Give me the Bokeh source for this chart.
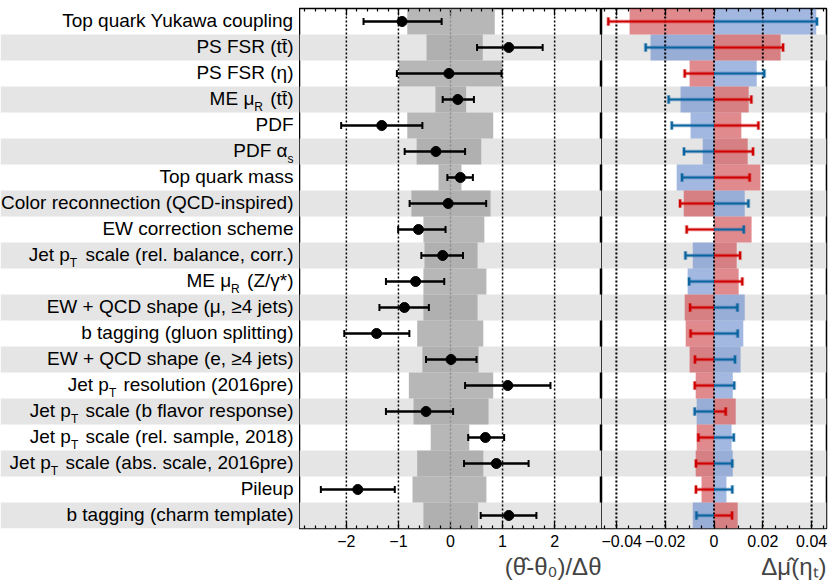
import re
import numpy as np
from bokeh.plotting import figure
from bokeh.layouts import row
from bokeh.models import (ColumnDataSource, Range1d, LinearAxis, FixedTicker,
                          Span, Title, Whisker, TeeHead)
from bokeh.embed import file_html
from bokeh.resources import INLINE
from bokeh.core.properties import value

# ---------------- data ----------------
LABELS = [
    "Top quark Yukawa coupling",
    "PS FSR (tt\u0304)",
    "PS FSR (η)",
    "ME μ_{R} (tt\u0304)",
    "PDF",
    "PDF α_{s}",
    "Top quark mass",
    "Color reconnection (QCD-inspired)",
    "EW correction scheme",
    "Jet p_{T} scale (rel. balance, corr.)",
    "ME μ_{R} (Z/γ*)",
    "EW + QCD shape (μ, ≥4 jets)",
    "b tagging (gluon splitting)",
    "EW + QCD shape (e, ≥4 jets)",
    "Jet p_{T} resolution (2016pre)",
    "Jet p_{T} scale (b flavor response)",
    "Jet p_{T} scale (rel. sample, 2018)",
    "Jet p_{T} scale (abs. scale, 2016pre)",
    "Pileup",
    "b tagging (charm template)",
]

PULL = [-0.93, 1.12, -0.03, 0.14, -1.32, -0.28, 0.19, -0.045, -0.615, -0.15,
        -0.67, -0.885, -1.42, 0.01, 1.10, -0.47, 0.67, 0.88, -1.78, 1.12]
PULL_ERR_DN = [0.74, 0.61, 1.00, 0.29, 0.78, 0.60, 0.25, 0.74, 0.39, 0.41,
               0.57, 0.48, 0.62, 0.48, 0.82, 0.77, 0.33, 0.62, 0.71, 0.54]
PULL_ERR_UP = [0.76, 0.65, 1.01, 0.31, 0.78, 0.56, 0.24, 0.73, 0.52, 0.39,
               0.55, 0.47, 0.63, 0.49, 0.82, 0.52, 0.36, 0.62, 0.71, 0.53]
CONSTR_LO = [-0.83, -0.46, -0.99, -0.29, -0.83, -0.65, -0.23, -0.75, -0.52, -0.50,
             -0.52, -0.52, -0.64, -0.54, -0.80, -0.71, -0.38, -0.64, -0.73, -0.52]
CONSTR_HI = [0.85, 0.62, 1.00, 0.30, 0.82, 0.59, 0.21, 0.77, 0.65, 0.52,
             0.69, 0.52, 0.63, 0.54, 0.82, 0.73, 0.36, 0.63, 0.69, 0.53]

IMPACT_UP_BOX = [-0.0346, 0.0273, -0.0100, 0.0142, 0.0112, 0.0138, 0.0190, -0.0124, 0.0154, 0.0093,
                 0.0101, -0.0120, -0.0116, -0.0100, -0.0075, 0.0089, -0.0071, -0.0075, -0.0051, 0.0097]
IMPACT_DN_BOX = [0.0419, -0.0260, 0.0175, -0.0137, -0.0096, -0.0046, -0.0153, 0.0126, 0.0, -0.0087,
                 -0.0108, 0.0126, 0.0120, 0.0109, 0.0077, -0.0071, 0.0072, 0.0077, 0.0051, -0.0087]
IMPACT_UP_LINE = [-0.0433, 0.0283, -0.0120, 0.0153, 0.0182, 0.0160, 0.0146, -0.0139, -0.0112, 0.0107,
                  0.0116, -0.0098, -0.0096, -0.0078, -0.0079, 0.0048, -0.0064, -0.0074, -0.0074, 0.0074]
IMPACT_DN_LINE = [0.0422, -0.0280, 0.0206, -0.0186, -0.0173, -0.0123, -0.0131, 0.0141, 0.0122, -0.0117,
                  -0.0102, 0.0096, 0.0097, 0.0086, 0.0083, -0.0079, 0.0081, 0.0075, 0.0075, -0.0072]

PULL_TICKS = [-2, -1, 0, 1, 2]
PULL_TICK_LABELS = ["\u22122", "\u22121", "0", "1", "2"]
IMPACT_TICKS = [-0.04, -0.02, 0, 0.02, 0.04]
IMPACT_TICK_LABELS = ["\u22120.04", "\u22120.02", "0", "0.02", "0.04"]
PULL_TITLE = "(θ\u0302-θ\u2080)/Δθ"
IMPACT_TITLE = "Δμ\u0302(η\u209c)"

# ---------------- style ----------------
FONT = "Liberation Sans"
LAB_SIZE = 19
SUB_SIZE = 12
BAND = "#e5e5e5"
RED_BOX, BLUE_BOX = "#cb3c43", "#6689cb"
RED_LINE, BLUE_LINE = "#d00000", "#0a64a0"
H = 582
TOP = 8
BOTTOM = 54

# Arial / Liberation Sans advance widths (1/1000 em)
W = {' ': 278, '(': 333, ')': 333, '*': 389, '+': 584, ',': 278, '-': 333, '.': 278,
     '/': 278, ':': 278, 'μ': 576, 'α': 578, 'γ': 500, 'η': 556, '≥': 549, '\u0304': 0}
for c in "0123456789":
    W[c] = 556
W.update(dict(zip("ABCDEFGHIJKLMNOPQRSTUVWXYZ",
                  [667, 667, 722, 722, 667, 611, 778, 722, 278, 500, 667, 556, 833,
                   722, 778, 667, 778, 722, 667, 611, 722, 667, 944, 667, 667, 611])))
W.update(dict(zip("abcdefghijklmnopqrstuvwxyz",
                  [556, 556, 500, 556, 556, 278, 556, 556, 222, 222, 500, 222, 833,
                   556, 556, 556, 556, 333, 500, 278, 556, 500, 722, 500, 500, 500])))


def twidth(s, size):
    return sum(W.get(ch, 556) for ch in s) / 1000.0 * size


def segments(label):
    parts = re.split(r"_\{([^}]*)\}", label)
    return [(t, i % 2 == 1) for i, t in enumerate(parts) if t]


n = len(LABELS)
ys = np.arange(1, n + 1)
band_rows = ys[1::2]


def make_fig(width, x_range, right_border=0):
    p = figure(width=width, height=H, x_range=x_range, y_range=Range1d(n + 0.5, 0.5),
               output_backend="svg", toolbar_location=None,
               x_axis_location=None, y_axis_location=None,
               min_border_left=0, min_border_right=right_border,
               min_border_top=TOP, min_border_bottom=BOTTOM,
               background_fill_color="white", border_fill_color="white")
    p.grid.visible = False
    return p


def add_axes(p, ticks, labels, minor, show=True):
    overrides = {t: l for t, l in zip(ticks, labels)}
    col = "black" if show else None
    common = dict(axis_line_color=None,
                  major_tick_in=7, major_tick_out=0,
                  minor_tick_in=3, minor_tick_out=0,
                  major_tick_line_color=col, minor_tick_line_color=col,
                  major_tick_line_width=1.2, minor_tick_line_width=1.2)
    below = LinearAxis(ticker=FixedTicker(ticks=ticks, minor_ticks=minor),
                       major_label_overrides=overrides,
                       major_label_standoff=6,
                       major_label_text_font=FONT,
                       major_label_text_font_size="16px",
                       major_label_text_color=col, **common)
    above = LinearAxis(ticker=FixedTicker(ticks=ticks, minor_ticks=minor),
                       major_label_overrides={t: "" for t in ticks},
                       major_label_standoff=0,
                       major_label_text_font_size="1px",
                       major_label_text_color=None, **common)
    p.add_layout(below, "below")
    p.add_layout(above, "above")


pull_minor = list(np.round(np.arange(-2.8, 2.81, 0.2), 3))
imp_minor = list(np.round(np.arange(-0.045, 0.0451, 0.005), 4))

# ---------------- labels panel ----------------
p_lab = make_fig(299, Range1d(0, 299))
p_lab.outline_line_color = None
p_lab.hbar(y=band_rows, left=-10, right=400, height=1, fill_color=BAND, line_color=None)
add_axes(p_lab, PULL_TICKS, PULL_TICK_LABELS, pull_minor, show=False)

X_RIGHT = 293
BASE = -1.0 / 26
SUB_DROP = 8.0 / 26
GAP_AFTER_SUB = 2.0
mx, my, mt, sx, sy, st = [], [], [], [], [], []
for yv, lab in zip(ys, LABELS):
    cursor = X_RIGHT
    for txt, is_sub in reversed(segments(lab)):
        if is_sub:
            sx.append(cursor); sy.append(yv + BASE + SUB_DROP); st.append(txt)
            cursor -= twidth(txt, SUB_SIZE)
        else:
            core = txt.strip(" ")
            mx.append(cursor); my.append(yv + BASE); mt.append(core)
            cursor -= twidth(core, LAB_SIZE)
            if txt.startswith(" "):
                cursor -= twidth(" ", LAB_SIZE) + GAP_AFTER_SUB

p_lab.text(x="x", y="y", text="t", source=ColumnDataSource(dict(x=mx, y=my, t=mt)),
           text_align="right", text_baseline="alphabetic", text_font=value(FONT),
           text_font_size=f"{LAB_SIZE}px", text_color="black")
p_lab.text(x="x", y="y", text="t", source=ColumnDataSource(dict(x=sx, y=sy, t=st)),
           text_align="right", text_baseline="alphabetic", text_font=value(FONT),
           text_font_size=f"{SUB_SIZE}px", text_color="black")

# ---------------- pull panel ----------------
p_pull = make_fig(302, Range1d(-2.9, 2.9))
p_pull.outline_line_color = "black"
p_pull.outline_line_width = 1.5
p_pull.hbar(y=band_rows, left=-5, right=5, height=1, fill_color=BAND, line_color=None)
pull_arr = np.array(PULL)
pull_src = ColumnDataSource(dict(y=ys, pull=pull_arr,
                                 lo=pull_arr - np.array(PULL_ERR_DN),
                                 hi=pull_arr + np.array(PULL_ERR_UP),
                                 clo=CONSTR_LO, chi=CONSTR_HI))
p_pull.hbar(y="y", left="clo", right="chi", height=1, source=pull_src,
            fill_color="#9c9c9c", fill_alpha=0.73, line_color=None)
for t in PULL_TICKS:
    p_pull.add_layout(Span(location=t, dimension="height",
                           line_color="#8c8c8c" if t == 0 else "black",
                           line_dash="2 2", line_width=1.5))
p_pull.add_layout(Whisker(source=pull_src, base="y", lower="lo", upper="hi",
                          dimension="width", line_color="black", line_width=2.5,
                          level="overlay",
                          lower_head=TeeHead(size=7, line_color="black", line_width=2),
                          upper_head=TeeHead(size=7, line_color="black", line_width=2)))
r = p_pull.scatter(x="pull", y="y", source=pull_src, size=10, marker="circle",
                   fill_color="black", line_color="black")
r.level = "overlay"
add_axes(p_pull, PULL_TICKS, PULL_TICK_LABELS, pull_minor)
p_pull.add_layout(Title(text=PULL_TITLE, align="right", text_font=FONT,
                        text_font_size="24px", text_font_style="normal",
                        standoff=2), "below")

# ---------------- impact panel ----------------
p_imp = make_fig(227, Range1d(-0.0461, 0.0461), right_border=2)
p_imp.outline_line_color = "black"
p_imp.outline_line_width = 1.5
p_imp.hbar(y=band_rows, left=-1, right=1, height=1, fill_color=BAND, line_color=None)
imp_src = ColumnDataSource(dict(y=ys, zero=np.zeros(n),
                                up_box=IMPACT_UP_BOX, dn_box=IMPACT_DN_BOX,
                                up_line=IMPACT_UP_LINE, dn_line=IMPACT_DN_LINE))
p_imp.hbar(y="y", left="zero", right="dn_box", height=1, source=imp_src,
           fill_color=BLUE_BOX, fill_alpha=0.6, line_color=None)
p_imp.hbar(y="y", left="zero", right="up_box", height=1, source=imp_src,
           fill_color=RED_BOX, fill_alpha=0.6, line_color=None)
for t in IMPACT_TICKS:
    p_imp.add_layout(Span(location=t, dimension="height", line_color="black",
                          line_dash="2 2", line_width=2))
for col, colr in (("up_line", RED_LINE), ("dn_line", BLUE_LINE)):
    p_imp.add_layout(Whisker(source=imp_src, base="y", lower="zero", upper=col,
                             dimension="width", line_color=colr, line_width=4,
                             line_alpha=0.25, level="overlay", lower_head=None,
                             upper_head=TeeHead(size=9, line_color=colr, line_width=4,
                                                line_alpha=0.25)))
    p_imp.add_layout(Whisker(source=imp_src, base="y", lower="zero", upper=col,
                             dimension="width", line_color=colr, line_width=2.2,
                             level="overlay", lower_head=None,
                             upper_head=TeeHead(size=8, line_color=colr, line_width=2.2)))
add_axes(p_imp, IMPACT_TICKS, IMPACT_TICK_LABELS, imp_minor)
p_imp.add_layout(Title(text=IMPACT_TITLE, align="right", text_font=FONT,
                       text_font_size="24px", text_font_style="normal",
                       standoff=2), "below")

layout = row(p_lab, p_pull, p_imp, spacing=0)
open("out.html", "w").write(file_html(layout, INLINE))
